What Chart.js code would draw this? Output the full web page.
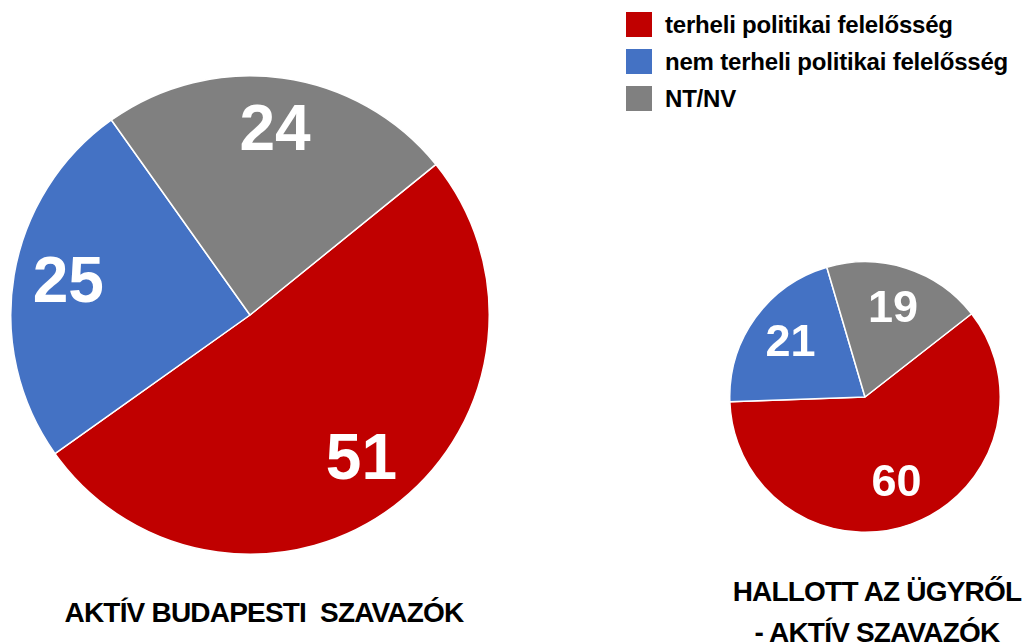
<!DOCTYPE html>
<html lang="hu">

<head>
  <meta charset="UTF-8" />
  <title>Politikai felelősség</title>
  <script src="https://cdn.jsdelivr.net/npm/chart.js"></script>
  <style>
    body { margin: 0; background: #fff; font-family: "Liberation Sans", Arial, sans-serif; }
    #page { position: relative; width: 1024px; height: 644px; overflow: hidden; }
    .pie { position: absolute; }
    .legend { position: absolute; left: 626px; top: 12px; font-weight: bold; font-size: 24px; color: #000; letter-spacing: -0.2px; }
    .legend .row { display: flex; align-items: center; height: 25px; margin-bottom: 12px; }
    .legend .box { width: 26px; height: 25px; margin-right: 13px; }
    .title { position: absolute; font-weight: bold; font-size: 28px; line-height: 41px; text-align: center; color: #000; letter-spacing: -0.8px; white-space: pre; }
  </style>
</head>

<body>
  <div id="page">
    <canvas id="leftPie" class="pie" width="480" height="480" style="left:10px; top:75px"></canvas>
    <canvas id="rightPie" class="pie" width="272" height="272" style="left:729px; top:261px"></canvas>
    <div class="legend" id="legend"></div>
    <div class="title" style="left:14px; top:592px; width:500px">AKTÍV BUDAPESTI  SZAVAZÓK</div>
    <div class="title" style="left:727px; top:571px; width:300px">HALLOTT AZ ÜGYRŐL<br>- AKTÍV SZAVAZÓK</div>
  </div>

  <script>
    const categories = ["terheli politikai felelősség", "nem terheli politikai felelősség", "NT/NV"];
    const colors = ["#C00000", "#4472C4", "#808080"];
    const budapestValues = [51, 25, 24];
    const heardValues = [60, 21, 19];

    // legend
    const legend = document.getElementById("legend");
    categories.forEach((cat, i) => {
      const row = document.createElement("div");
      row.className = "row";
      row.innerHTML = `<div class="box" style="background:${colors[i]}"></div><span>${cat}</span>`;
      legend.appendChild(row);
    });

    // white numbers inside the slices
    const sliceLabels = {
      id: "sliceLabels",
      afterDatasetsDraw(chart, args, opts) {
        const ctx = chart.ctx;
        const meta = chart.getDatasetMeta(0);
        const data = chart.data.datasets[0].data;
        ctx.save();
        ctx.fillStyle = "#fff";
        ctx.font = `bold ${opts.size}px "Liberation Sans", Arial, sans-serif`;
        ctx.textAlign = "center";
        ctx.textBaseline = "middle";
        meta.data.forEach((arc, i) => {
          const mid = (arc.startAngle + arc.endAngle) / 2;
          const r = arc.outerRadius * opts.frac;
          ctx.fillText(data[i], arc.x + Math.cos(mid) * r, arc.y + Math.sin(mid) * r);
        });
        ctx.restore();
      }
    };

    function makePie(id, values, rotation, size, frac) {
      new Chart(document.getElementById(id), {
        type: "pie",
        data: {
          labels: categories,
          datasets: [{
            data: values,
            backgroundColor: colors,
            borderColor: "#fff",
            borderWidth: 1.5
          }]
        },
        options: {
          responsive: false,
          animation: false,
          rotation: rotation,
          layout: { padding: 0 },
          plugins: {
            legend: { display: false },
            tooltip: { enabled: false },
            sliceLabels: { size: size, frac: frac }
          }
        },
        plugins: [sliceLabels]
      });
    }

    makePie("leftPie", budapestValues, 51, 64, 0.77);
    makePie("rightPie", heardValues, 52, 45, 0.68);
  </script>
</body>

</html>
